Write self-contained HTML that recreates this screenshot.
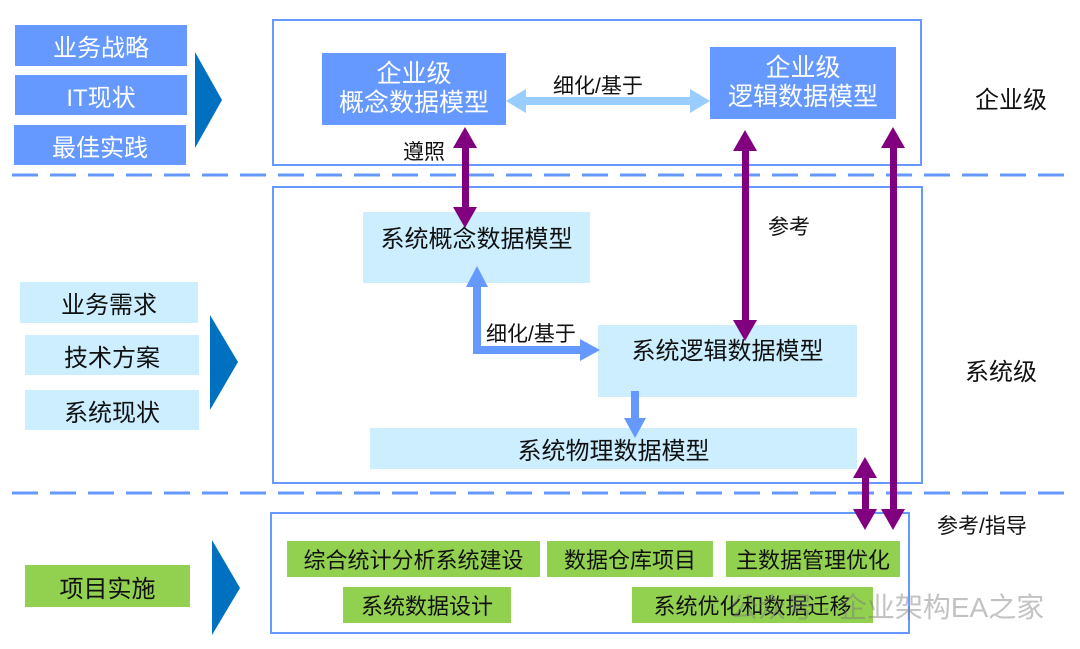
<!DOCTYPE html>
<html><head><meta charset="utf-8"><style>
body{margin:0;width:1080px;height:649px;background:#fff;position:relative;overflow:hidden;font-family:"Liberation Sans","Noto Sans CJK SC",sans-serif}
.b{position:absolute;display:flex;align-items:center;justify-content:center;text-align:center;box-sizing:border-box;white-space:nowrap}
.d{background:#6699ff;color:#fff;font-size:24px}
.l{background:#cceeff;color:#111;font-size:24px}
.g{background:#92d050;color:#111;font-size:22px}
.f{position:absolute;border:2px solid #6699ff;box-sizing:border-box}
.t{position:absolute;color:#111;font-size:21px;white-space:nowrap}
</style></head><body>
<div class="b d" style="left:15px;top:25px;width:172px;height:41px">业务战略</div>
<div class="b d" style="left:15px;top:75px;width:172px;height:40px">IT现状</div>
<div class="b d" style="left:14px;top:125px;width:172px;height:40px">最佳实践</div>
<div class="f" style="left:272px;top:19px;width:650px;height:147px"></div>
<div class="f" style="left:272px;top:186px;width:651px;height:298px"></div>
<div class="f" style="left:270px;top:512px;width:640px;height:122px"></div>
<div class="b d" style="left:322px;top:53px;width:184px;height:72px;line-height:29px;font-size:25px">企业级<br>概念数据模型</div>
<div class="b d" style="left:710px;top:47px;width:186px;height:72px;line-height:29px;font-size:25px">企业级<br>逻辑数据模型</div>
<div class="b l" style="left:363px;top:212px;width:227px;height:71px;align-items:flex-start;padding-top:7px">系统概念数据模型</div>
<div class="b l" style="left:598px;top:325px;width:259px;height:72px;align-items:flex-start;padding-top:6px">系统逻辑数据模型</div>
<div class="b l" style="left:370px;top:428px;width:487px;height:41px">系统物理数据模型</div>
<div class="b l" style="left:20px;top:282px;width:178px;height:41px">业务需求</div>
<div class="b l" style="left:25px;top:335px;width:174px;height:40px">技术方案</div>
<div class="b l" style="left:25px;top:390px;width:174px;height:40px">系统现状</div>
<div class="b g" style="left:287px;top:541px;width:253px;height:36px">综合统计分析系统建设</div>
<div class="b g" style="left:547px;top:541px;width:166px;height:36px">数据仓库项目</div>
<div class="b g" style="left:726px;top:541px;width:174px;height:36px">主数据管理优化</div>
<div class="b g" style="left:343px;top:587px;width:168px;height:36px">系统数据设计</div>
<div class="b g" style="left:632px;top:587px;width:241px;height:36px">系统优化和数据迁移</div>
<div class="b g" style="left:25px;top:565px;width:165px;height:42px;font-size:24px">项目实施</div>
<svg width="1080" height="649" style="position:absolute;left:0;top:0">
<g fill="#0070c0"><polygon points="195,52 222,100 195,148"/><polygon points="210,315 238,362 210,410"/><polygon points="212,540 240,588 212,635"/></g>
<g stroke="#6699ff" stroke-width="3" stroke-dasharray="26 12"><line x1="12" y1="175" x2="1065" y2="175"/><line x1="12" y1="493" x2="1065" y2="493"/></g>
<g fill="#99ccff"><rect x="525" y="97" width="166" height="8"/><polygon points="506,101 526,89 526,113"/><polygon points="710,101 690,89 690,113"/></g>
<g fill="#6699ff"><rect x="473" y="285" width="8" height="69"/><rect x="473" y="346" width="108" height="8"/><polygon points="477,266 466,287 488,287"/><polygon points="600,350 580,339 580,361"/><rect x="631" y="391" width="8" height="28"/><polygon points="635,438 624,418 646,418"/></g>
<g fill="#800080">
<rect x="462" y="145" width="7" height="66"/><polygon points="465,127 453,148 477,148"/><polygon points="465,228 453,207 477,207"/>
<rect x="742" y="148" width="7" height="175"/><polygon points="745,130 733,151 757,151"/><polygon points="745,341 733,320 757,320"/>
<rect x="890" y="145" width="7" height="368"/><polygon points="893,127 881,148 905,148"/><polygon points="893,530 881,509 905,509"/>
<rect x="862" y="475" width="7" height="38"/><polygon points="865,457 853,478 877,478"/><polygon points="865,530 853,509 877,509"/>
</g></svg>
<div class="t" style="left:553px;top:70px">细化/基于</div>
<div class="t" style="left:403px;top:136px">遵照</div>
<div class="t" style="left:768px;top:211px">参考</div>
<div class="t" style="left:486px;top:318px">细化/基于</div>
<div class="t" style="left:975px;top:80px;font-size:24px">企业级</div>
<div class="t" style="left:965px;top:352px;font-size:24px">系统级</div>
<div class="t" style="left:937px;top:510px">参考/指导</div>
<div class="t" style="left:730px;top:586px;font-size:28px;color:rgba(120,120,120,0.45)">公众号 · 企业架构EA之家</div>
</body></html>
